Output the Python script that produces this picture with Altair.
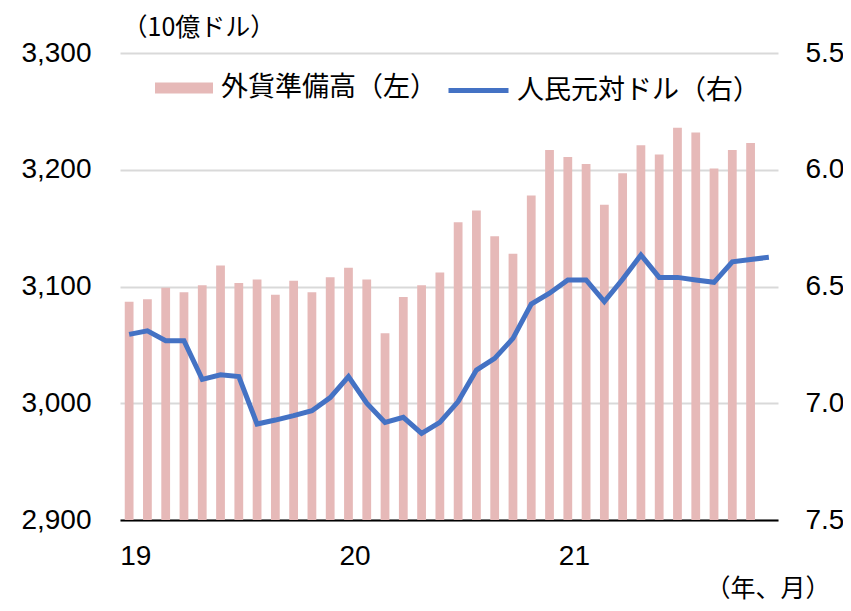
import altair as alt
import pandas as pd

months = [f"{y}-{m:02d}" for y in (19, 20, 21) for m in range(1, 13)]
year_starts = ["19-01", "20-01", "21-01"]

# 外貨準備高 (10億ドル), 2019/1 - 2021/11
reserves = [3087, 3089, 3099, 3095, 3101, 3118, 3103, 3106, 3093, 3105, 3095, 3108,
            3116, 3106, 3060, 3091, 3101, 3112, 3155, 3165, 3143, 3128, 3178, 3217,
            3211, 3205, 3170, 3197, 3221, 3213, 3236, 3232, 3201, 3217, 3223]
# 人民元対ドル, 2019/1 - 2021/12
cny = [6.705, 6.690, 6.732, 6.732, 6.898, 6.878, 6.886, 7.089, 7.072, 7.053, 7.032, 6.976,
       6.886, 7.000, 7.082, 7.060, 7.129, 7.082, 6.993, 6.858, 6.808, 6.722, 6.575, 6.529,
       6.472, 6.472, 6.565, 6.469, 6.365, 6.461, 6.461, 6.472, 6.482, 6.394, 6.384, 6.375]

bar_name = "外貨準備高（左）"
line_name = "人民元対ドル（右）"

left_ticks = [2900, 3000, 3100, 3200, 3300]
right_ticks = [5.5, 6.0, 6.5, 7.0, 7.5]

df_bar = pd.DataFrame({"month": months[:len(reserves)], "value": reserves, "series": bar_name})
df_line = pd.DataFrame({"month": months, "value": cny, "series": line_name})

NUM_FONT = "Liberation Sans"
JP_FONT = "Noto Sans CJK JP"

xscale = alt.Scale(domain=months, paddingInner=0.52, paddingOuter=0.26)
xaxis = alt.Axis(values=year_starts, labelExpr="slice(datum.value, 0, 2)",
                 labelAlign="left", labelAngle=0, labelOffset=-9, ticks=False, grid=False,
                 domainColor="black", domainWidth=2,
                 labelFont=NUM_FONT, labelFontSize=28, labelColor="black", labelPadding=22,
                 title="（年、月）", titleFont=JP_FONT, titleFontSize=25, titleFontWeight="normal",
                 titleColor="black", titleAngle=0, titleX=585, titleY=68,
                 titleAlign="left", titleBaseline="middle")

bars = alt.Chart(df_bar).mark_bar(color="#e6b9b8").encode(
    x=alt.X("month:N", scale=xscale, axis=xaxis, sort=months),
    y=alt.Y("value:Q",
            scale=alt.Scale(domain=[2900, 3300], zero=False, nice=False),
            axis=alt.Axis(values=left_ticks, format=",.0f", grid=True, gridColor="#d9d9d9",
                          gridWidth=2, ticks=False, domain=False,
                          labelFont=NUM_FONT, labelFontSize=28, labelColor="black",
                          labelPadding=29,
                          title="（10億ドル）", titleFont=JP_FONT, titleFontSize=25,
                          titleFontWeight="normal", titleColor="black", titleAngle=0,
                          titleX=2, titleY=-26, titleAlign="left", titleBaseline="middle")),
    y2=alt.datum(2900),
    fill=alt.Fill("series:N", title=None,
                  scale=alt.Scale(domain=[bar_name], range=["#e6b9b8"]),
                  legend=alt.Legend(orient="none", legendX=35, legendY=6,
                                    symbolType="M-1,-0.19H1V0.19H-1Z", symbolSize=3364,
                                    symbolStrokeWidth=0, labelFont=JP_FONT, labelFontSize=27,
                                    labelColor="black", labelOffset=8, labelLimit=500)),
)

line = alt.Chart(df_line).mark_line(strokeWidth=5, color="#4472c4").encode(
    x=alt.X("month:N", scale=xscale, sort=months),
    y=alt.Y("value:Q",
            scale=alt.Scale(domain=[5.5, 7.5], reverse=True, zero=False, nice=False),
            axis=alt.Axis(orient="right", values=right_ticks, format=".1f", grid=False,
                          ticks=False, domain=False, labelFont=NUM_FONT, labelFontSize=28,
                          labelColor="black", labelPadding=27, title=None)),
    stroke=alt.Stroke("series:N", title=None,
                      scale=alt.Scale(domain=[line_name], range=["#4472c4"]),
                      legend=alt.Legend(orient="none", legendX=326, legendY=5,
                                        symbolType="stroke", symbolSize=3600,
                                        symbolStrokeWidth=5, labelFont=JP_FONT,
                                        labelFontSize=27, labelColor="black", labelOffset=6,
                                        labelLimit=500)),
)

chart = alt.layer(bars, line).resolve_scale(y="independent").properties(
    width=658, height=467,
    autosize=alt.AutoSizeParams(type="none"),
    padding={"left": 112, "top": 45, "right": 65, "bottom": 83},
    background="white",
).configure_view(stroke=None)

chart.save("out.html", embed_options={"renderer": "svg", "actions": False})
